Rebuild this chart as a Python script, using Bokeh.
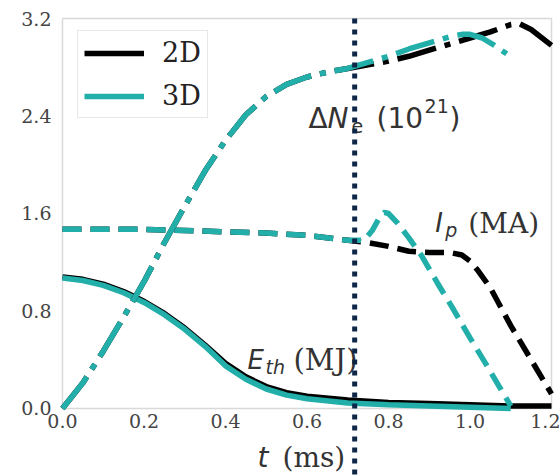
from bokeh.plotting import figure
from bokeh.models import (Range1d, FixedTicker, PrintfTickFormatter, Label,
                          Arrow, BoxAnnotation, Legend, LegendItem)
from bokeh.embed import file_html
from bokeh.resources import INLINE

TEAL = "#22aea9"
BLACK = "#000000"
NAVY = "#0f2747"
TEXT = "#333333"

# Electron content rise, Delta N_e (10^21)
t_ne_2d = [0, 0.05, 0.1, 0.15, 0.2, 0.25, 0.3, 0.35, 0.4, 0.45, 0.5, 0.55, 0.6,
           0.65, 0.7, 0.75, 0.8, 0.85, 0.9, 0.95, 1.0, 1.05, 1.1, 1.12, 1.15, 1.2]
ne_2d = [0, 0.21, 0.47, 0.75, 1.04, 1.36, 1.66, 1.95, 2.2, 2.41, 2.56, 2.66, 2.72,
         2.76, 2.79, 2.82, 2.85, 2.89, 2.94, 2.99, 3.04, 3.09, 3.15, 3.16, 3.11, 2.98]
t_ne_3d = [0, 0.05, 0.1, 0.15, 0.2, 0.25, 0.3, 0.35, 0.4, 0.45, 0.5, 0.55, 0.6,
           0.65, 0.7, 0.75, 0.8, 0.85, 0.9, 0.95, 0.98, 1.0, 1.03, 1.06, 1.09]
ne_3d = [0, 0.21, 0.47, 0.75, 1.04, 1.36, 1.66, 1.95, 2.2, 2.41, 2.56, 2.66, 2.72,
         2.76, 2.79, 2.84, 2.89, 2.95, 3.0, 3.05, 3.07, 3.07, 3.04, 2.98, 2.91]

# Plasma current I_p (MA)
t_ip_2d = [0, 0.1, 0.2, 0.3, 0.4, 0.5, 0.6, 0.7, 0.75, 0.8, 0.85, 0.9, 0.95,
           0.98, 1.0, 1.02, 1.05, 1.1, 1.15, 1.2]
ip_2d = [1.47, 1.47, 1.47, 1.46, 1.45, 1.44, 1.42, 1.38, 1.36, 1.33, 1.29, 1.28,
         1.28, 1.26, 1.21, 1.13, 0.99, 0.68, 0.40, 0.12]
t_ip_3d = [0, 0.1, 0.2, 0.3, 0.4, 0.5, 0.6, 0.7, 0.74, 0.76, 0.78, 0.79, 0.8,
           0.82, 0.85, 0.88, 0.92, 0.96, 1.0, 1.04, 1.07, 1.1]
ip_3d = [1.47, 1.47, 1.47, 1.46, 1.45, 1.44, 1.42, 1.38, 1.38, 1.46, 1.58, 1.61,
         1.60, 1.53, 1.40, 1.26, 1.03, 0.81, 0.58, 0.36, 0.19, 0.02]

# Thermal energy E_th (MJ)
t_eth_2d = [0, 0.05, 0.1, 0.15, 0.2, 0.25, 0.3, 0.35, 0.4, 0.45, 0.5, 0.55, 0.6,
            0.7, 0.8, 0.9, 1.0, 1.1, 1.2]
eth_2d = [1.08, 1.06, 1.02, 0.96, 0.88, 0.78, 0.66, 0.52, 0.37, 0.26, 0.18, 0.13,
          0.10, 0.07, 0.05, 0.04, 0.03, 0.02, 0.02]
t_eth_3d = [0, 0.05, 0.1, 0.15, 0.2, 0.25, 0.3, 0.35, 0.4, 0.45, 0.5, 0.55, 0.6,
            0.7, 0.8, 0.9, 1.0, 1.1]
eth_3d = [1.07, 1.05, 1.01, 0.95, 0.87, 0.77, 0.65, 0.51, 0.35, 0.24, 0.16, 0.11,
          0.08, 0.045, 0.03, 0.02, 0.01, 0.0]

t_marker = 0.717
x_ticks = [0.0, 0.2, 0.4, 0.6, 0.8, 1.0, 1.2]
y_ticks = [0.0, 0.8, 1.6, 2.4, 3.2]
x_lo, x_hi = 0.0, 1.2
y_lo, y_hi = 0.0, 3.2

# The frame fills the whole page, so the tick labels, the axis title and the
# time marker are all drawn inside it; both axes are pinned at zero and a box
# outlines the data area.
p = figure(width=560, height=476, output_backend="svg", toolbar_location=None,
           x_range=Range1d(-0.1521, 1.2221), y_range=Range1d(-0.558, 3.3477),
           min_border=0)
p.background_fill_color = "white"
p.border_fill_color = "white"
p.outline_line_color = None
p.xgrid.visible = False
p.ygrid.visible = False

for ax, ticks in ((p.xaxis[0], x_ticks), (p.yaxis[0], y_ticks)):
    ax.ticker = FixedTicker(ticks=ticks)
    ax.formatter = PrintfTickFormatter(format="%.1f")
    ax.fixed_location = 0
    ax.axis_line_color = None
    ax.major_tick_line_color = None
    ax.minor_tick_line_color = None
    ax.major_tick_in = 0
    ax.major_tick_out = 0
    ax.major_label_text_font = "DejaVu Serif"
    ax.major_label_text_font_size = "19px"
    ax.major_label_text_color = "#444444"
p.xaxis.major_label_standoff = 6
p.yaxis.major_label_standoff = 11

# box around the data area
p.add_layout(BoxAnnotation(left=x_lo, right=x_hi, bottom=y_lo, top=y_hi,
                           fill_alpha=0, line_color="#808080", line_width=1.5,
                           level="underlay"))

# thermal energy (solid)
r_eth_2d = p.line(t_eth_2d, eth_2d, line_color=BLACK, line_width=5.5)
r_eth_3d = p.line(t_eth_3d, eth_3d, line_color=TEAL, line_width=5.5)

# plasma current (dashed)
p.line(t_ip_2d, ip_2d, line_color=BLACK, line_width=5.5, line_dash="19 9")
p.line(t_ip_3d, ip_3d, line_color=TEAL, line_width=5.5, line_dash="19 9")

# electron content (dash-dot)
p.line(t_ne_2d, ne_2d, line_color=BLACK, line_width=5.5, line_dash="40 9 6 9")
p.line(t_ne_3d, ne_3d, line_color=TEAL, line_width=5.5, line_dash="40 9 6 9")

legend = Legend(items=[LegendItem(label="2D", renderers=[r_eth_2d]),
                       LegendItem(label="3D", renderers=[r_eth_3d])],
                location=(77, 358), padding=6, spacing=12,
                glyph_width=60, glyph_height=30, label_height=30,
                label_standoff=18, label_text_font="DejaVu Serif",
                label_text_font_size="27px", label_text_color="#222222",
                border_line_color="#d0d0d0", border_line_width=1.5,
                background_fill_color="white", background_fill_alpha=0.9)
p.add_layout(legend)


def piece(x, y, text, dx=0, dy=0, size="28px", font="DejaVu Sans",
          style="normal"):
    p.add_layout(Label(x=x, y=y, x_offset=dx, y_offset=dy, text=text,
                       text_font=font, text_font_style=style,
                       text_font_size=size, text_color=TEXT,
                       text_align="left", text_baseline="alphabetic"))


# ΔN_e (10^21)
piece(0.604, 2.38, "Δ")
piece(0.604, 2.38, "N", dx=19, style="italic")
piece(0.604, 2.38, "e", dx=43, dy=-8, size="19px")
piece(0.604, 2.38, "(10", dx=68)
piece(0.604, 2.38, "21", dx=116, dy=12, size="19px")
piece(0.604, 2.38, ")", dx=141)

# I_p (MA)
piece(0.915, 1.52, "I", style="italic", size="26px")
piece(0.915, 1.52, "p", dx=10, dy=-7, size="19px", style="italic")
piece(0.915, 1.52, "(MA)", dx=33, size="28px", font="DejaVu Serif")

# E_th (MJ)
piece(0.454, 0.394, "E", style="italic", size="26px")
piece(0.454, 0.394, "th", dx=18, dy=-7, size="19px", style="italic")
piece(0.454, 0.394, "(MJ)", dx=46, size="29px", font="DejaVu Serif")

# x axis title: t (ms)
piece(0.4785, -0.40, "t", style="italic", size="28px")
piece(0.4785, -0.40, "(ms)", dx=25, size="28px", font="DejaVu Serif")

# vertical dotted time marker, from the top of the box down past the title
p.add_layout(Arrow(end=None, x_start=t_marker, y_start=y_hi, x_end=t_marker,
                   y_end=-0.6, line_color=NAVY, line_width=5,
                   line_dash="5 6"))

open("out.html", "w").write(file_html(p, INLINE))
